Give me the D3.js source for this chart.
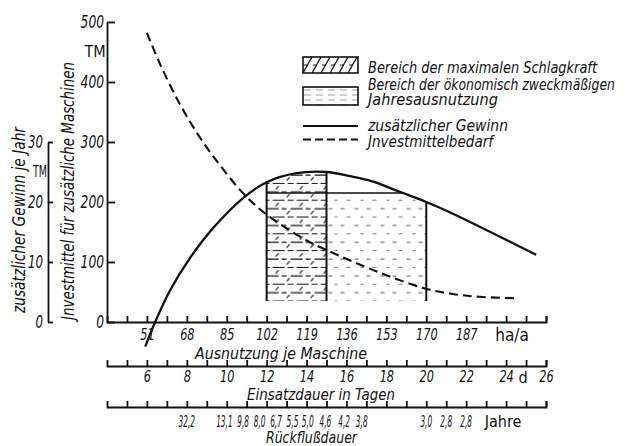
<!DOCTYPE html>
<html>
<head>
<meta charset="utf-8">
<script src="https://cdn.jsdelivr.net/npm/d3@7"></script>
<style>
  body { margin: 0; background: #fff; }
  text { font-family: "DejaVu Sans Condensed", "Liberation Sans", sans-serif; font-style: italic; fill: #111; }
</style>
</head>
<body>
<div id="chart"></div>
<script>
// zusätzlicher Gewinn (TM je Jahr) über Ausnutzung je Maschine (ha/a)
var gewinnHa = [50.3, 54.5, 60.9, 69.4, 79.3, 92.1, 102, 114.7, 127.5, 137.4, 147.3, 158.7, 170, 180, 216.8];
var gewinnTM = [-4.1, 0, 5.3, 10.7, 15.7, 20.7, 23.3, 24.8, 25.0, 24.3, 23.4, 21.7, 20.0, 18.3, 11.2];

// Investmittelbedarf (TM) über Ausnutzung je Maschine (ha/a)
var investHa = [51, 56.7, 65.2, 73.7, 82.2, 92.1, 102, 119, 127.5, 138.8, 153, 169.3, 181.3, 192.7, 208.3];
var investTM = [482, 429, 362, 307, 261, 214, 179, 136, 120, 100.5, 78, 56, 46.7, 42, 39.5];

// Bereiche (ha/a) und Grenzen (TM Gewinn)
var schlagkraftBereich = [102, 127.5];
var oekonomBereich = [102, 170];
var bereichBoden = 3.5;
var bereichLinie = 21.5;

// Achsenbeschriftungen
var ausnutzungLabels = [51, 68, 85, 102, 119, 136, 153, 170, 187];
var tageLabels = [6, 8, 10, 12, 14, 16, 18, 20, 22, 24, 26];
var rueckLabels = ["32,2", "13,1", "9,8", "8,0", "6,7", "5,5", "5,0", "4,6", "4,2", "3,8", "3,0", "2,8", "2,8"];
var rueckBeiHa = [68, 84, 92, 99, 106, 113, 119.5, 127, 135, 142.5, 170, 178.5, 187];
var investTicks = [0, 100, 200, 300, 400, 500];
var gewinnTicks = [0, 10, 20, 30];

var legendTexts = ["Bereich der maximalen Schlagkraft", "Bereich der ökonomisch zweckmäßigen",
                   "Jahresausnutzung", "zusätzlicher Gewinn", "Jnvestmittelbedarf"];

var svg = d3.select("#chart").append("svg")
  .attr("width", 644)
  .attr("height", 446);

// scales
var x = d3.scaleLinear().domain([34, 221]).range([107, 546]);
var xTage = d3.scaleLinear().domain([34 / 8.5, 221 / 8.5]).range(x.range());
var yInvest = d3.scaleLinear().domain([0, 500]).range([322, 22]);
var yGewinn = d3.scaleLinear().domain([0, 30]).range([322, 142]);

// patterns
var defs = svg.append("defs");
var rowY = yGewinn(bereichBoden) - 16.8 + 0.5;
var pA = defs.append("pattern").attr("id", "hatchA")
  .attr("patternUnits", "userSpaceOnUse").attr("width", 24).attr("height", 16.8)
  .attr("x", x(schlagkraftBereich[0])).attr("y", rowY);
pA.append("path").attr("d", "M0,8 H12 M15,8 H20 M0,16.4 H3 M6,16.4 H18 M21,16.4 H24")
  .attr("stroke", "#111").attr("stroke-width", 1.4);
pA.append("path").attr("d", "M9,5.5 L12,2 M20,13.5 L23,10")
  .attr("stroke", "#222").attr("stroke-width", 1.2);

var pB = defs.append("pattern").attr("id", "dotB")
  .attr("patternUnits", "userSpaceOnUse").attr("width", 26).attr("height", 16.8)
  .attr("x", x(schlagkraftBereich[1])).attr("y", rowY);
pB.append("path").attr("d", "M2,8 H6 M14,8 H18 M8,16.4 H11 M20,16.4 H24")
  .attr("stroke", "#777").attr("stroke-width", 1.1);

var pL = defs.append("pattern").attr("id", "diagL")
  .attr("patternUnits", "userSpaceOnUse").attr("width", 9).attr("height", 16)
  .attr("x", 303).attr("y", 57);
pL.append("path").attr("d", "M0,16 L9,0").attr("stroke", "#111").attr("stroke-width", 1.3);
pL.append("path").attr("d", "M1,8 H5").attr("stroke", "#111").attr("stroke-width", 1);

var pL2 = defs.append("pattern").attr("id", "dashL")
  .attr("patternUnits", "userSpaceOnUse").attr("width", 12).attr("height", 5)
  .attr("x", 303).attr("y", 87);
pL2.append("path").attr("d", "M1,3 H8").attr("stroke", "#aaa").attr("stroke-width", 1.1);

// clip: region under the Gewinn curve
var gewinnData = gewinnHa.map((d, i) => ({ha: d, v: gewinnTM[i]}));
var investData = investHa.map((d, i) => ({ha: d, v: investTM[i]}));
var kurve = d3.curveCatmullRom.alpha(0.5);

var clipArea = d3.area()
  .x(d => x(d.ha))
  .y0(yGewinn(bereichBoden))
  .y1(d => yGewinn(d.v))
  .curve(kurve);

defs.append("clipPath").attr("id", "unterKurve")
  .append("path").attr("d", clipArea(gewinnData));

var region = svg.append("g").attr("clip-path", "url(#unterKurve)");

region.append("rect")
  .attr("x", x(schlagkraftBereich[0]))
  .attr("width", x(schlagkraftBereich[1]) - x(schlagkraftBereich[0]))
  .attr("y", yGewinn(30))
  .attr("height", yGewinn(bereichBoden) - yGewinn(30))
  .attr("fill", "url(#hatchA)");

region.append("rect")
  .attr("x", x(schlagkraftBereich[1]))
  .attr("width", x(oekonomBereich[1]) - x(schlagkraftBereich[1]))
  .attr("y", yGewinn(bereichLinie))
  .attr("height", yGewinn(bereichBoden) - yGewinn(bereichLinie))
  .attr("fill", "url(#dotB)");

region.append("line")
  .attr("x1", x(oekonomBereich[0])).attr("x2", x(oekonomBereich[1]))
  .attr("y1", yGewinn(bereichLinie)).attr("y2", yGewinn(bereichLinie))
  .attr("stroke", "#111").attr("stroke-width", 1.5);

region.selectAll("line.grenze")
  .data([oekonomBereich[0], schlagkraftBereich[1], oekonomBereich[1]])
  .enter().append("line")
  .attr("class", "grenze")
  .attr("x1", d => x(d)).attr("x2", d => x(d))
  .attr("y1", yGewinn(bereichBoden)).attr("y2", yGewinn(30))
  .attr("stroke", "#111").attr("stroke-width", 2);

// curves
var lineGewinn = d3.line().x(d => x(d.ha)).y(d => yGewinn(d.v)).curve(kurve);
var lineInvest = d3.line().x(d => x(d.ha)).y(d => yInvest(d.v)).curve(kurve);

svg.append("path")
  .attr("d", lineGewinn(gewinnData))
  .attr("fill", "none").attr("stroke", "#111").attr("stroke-width", 2.3);

svg.append("path")
  .attr("d", lineInvest(investData))
  .attr("fill", "none").attr("stroke", "#111").attr("stroke-width", 2.1)
  .attr("stroke-dasharray", "9,5");

// axes
function styleAxis(g, size, perChar) {
  g.attr("font-family", null).attr("font-size", null);
  g.selectAll("path, line").attr("stroke", "#111").attr("stroke-width", 1.8);
  g.selectAll("text")
    .style("font-size", size + "px")
    .filter(function() { return this.textContent.length > 0; })
    .attr("textLength", function() { return this.textContent.length * perChar; })
    .attr("lengthAdjust", "spacingAndGlyphs");
}

svg.append("g")
  .attr("transform", "translate(107,0)")
  .call(d3.axisLeft(yInvest).tickValues(investTicks).tickSize(-8).tickSizeOuter(0).tickPadding(3))
  .call(g => styleAxis(g, 17, 7.8));

svg.append("g")
  .attr("transform", "translate(48,0)")
  .call(d3.axisLeft(yGewinn).tickValues(gewinnTicks).tickSize(-5).tickSizeOuter(0).tickPadding(5))
  .call(g => styleAxis(g, 17, 7.5));

svg.append("g")
  .attr("transform", "translate(0,322)")
  .call(d3.axisBottom(x).tickValues(d3.range(42.5, 221.1, 8.5)).tickSize(-6).tickSizeOuter(-6).tickPadding(7)
    .tickFormat(d => ausnutzungLabels.includes(d) ? d : ""))
  .call(g => styleAxis(g, 16, 7.2));

svg.append("g")
  .attr("transform", "translate(0,366)")
  .call(d3.axisBottom(xTage).tickValues(d3.range(5, 27)).tickSize(-6).tickSizeOuter(-6).tickPadding(5)
    .tickFormat(d => tageLabels.includes(d) ? d : ""))
  .call(g => styleAxis(g, 16, 7.2));

svg.append("g")
  .attr("transform", "translate(0,407)")
  .call(d3.axisBottom(xTage).tickValues(d3.range(5, 27)).tickSize(-6).tickSizeOuter(-6).tickFormat(""))
  .call(g => styleAxis(g, 16, 7));

// Rückflußdauer labels, horizontally squeezed like the hand lettering
svg.append("g").selectAll("text")
  .data(rueckLabels)
  .enter().append("text")
  .attr("transform", (d, i) => `translate(${x(rueckBeiHa[i])},427) scale(0.55,1)`)
  .attr("text-anchor", "middle")
  .style("font-size", "15px")
  .text(d => d);

// units and titles
svg.append("text").attr("x", 512).attr("y", 341).attr("text-anchor", "middle")
  .style("font-size", "17px").style("font-style", "normal").text("ha/a");
svg.append("text").attr("x", 523).attr("y", 383).attr("text-anchor", "middle")
  .style("font-size", "16px").style("font-style", "normal").text("d");
svg.append("text").attr("x", 503).attr("y", 427).attr("text-anchor", "middle")
  .style("font-size", "16px").style("font-style", "normal").text("Jahre");
svg.append("text").attr("x", 95).attr("y", 57).attr("text-anchor", "middle")
  .style("font-size", "16px").style("font-style", "normal").text("TM");
svg.append("text").attr("x", 40).attr("y", 177).attr("text-anchor", "middle")
  .attr("textLength", 14).attr("lengthAdjust", "spacingAndGlyphs")
  .style("font-size", "15px").style("font-style", "normal").text("TM");

svg.append("text").attr("x", 195).attr("y", 359)
  .attr("textLength", 172).attr("lengthAdjust", "spacingAndGlyphs")
  .style("font-size", "16px").text("Ausnutzung je Maschine");
svg.append("text").attr("x", 247).attr("y", 400)
  .attr("textLength", 148).attr("lengthAdjust", "spacingAndGlyphs")
  .style("font-size", "16px").text("Einsatzdauer in Tagen");
svg.append("text").attr("x", 266).attr("y", 443)
  .attr("textLength", 91).attr("lengthAdjust", "spacingAndGlyphs")
  .style("font-size", "15px").text("Rückflußdauer");

svg.append("text")
  .attr("transform", "translate(25,313) rotate(-90)")
  .attr("textLength", 186).attr("lengthAdjust", "spacingAndGlyphs")
  .style("font-size", "17px").text("zusätzlicher Gewinn je Jahr");
svg.append("text")
  .attr("transform", "translate(74,320) rotate(-90)")
  .attr("textLength", 258).attr("lengthAdjust", "spacingAndGlyphs")
  .style("font-size", "17px").text("Jnvestmittel für zusätzliche Maschinen");

// legend
var legend = svg.append("g");
legend.append("rect").attr("x", 303).attr("y", 57).attr("width", 55).attr("height", 16)
  .attr("fill", "url(#diagL)").attr("stroke", "#111").attr("stroke-width", 1.6);
legend.append("rect").attr("x", 303).attr("y", 87).attr("width", 55).attr("height", 18)
  .attr("fill", "url(#dashL)").attr("stroke", "#111").attr("stroke-width", 1.6);
legend.append("line").attr("x1", 303).attr("x2", 358).attr("y1", 126).attr("y2", 126)
  .attr("stroke", "#111").attr("stroke-width", 1.8);
legend.append("line").attr("x1", 303).attr("x2", 358).attr("y1", 139.5).attr("y2", 139.5)
  .attr("stroke", "#111").attr("stroke-width", 1.8).attr("stroke-dasharray", "8,4");

var legendY = [73, 90, 105, 131, 147];
var legendW = [229, 247, 130, 140, 125];
legend.selectAll("text.leg")
  .data(legendTexts)
  .enter().append("text")
  .attr("class", "leg")
  .attr("x", 368)
  .attr("y", (d, i) => legendY[i])
  .attr("textLength", (d, i) => legendW[i])
  .attr("lengthAdjust", "spacingAndGlyphs")
  .style("font-size", "15px")
  .text(d => d);
</script>
</body>
</html>
